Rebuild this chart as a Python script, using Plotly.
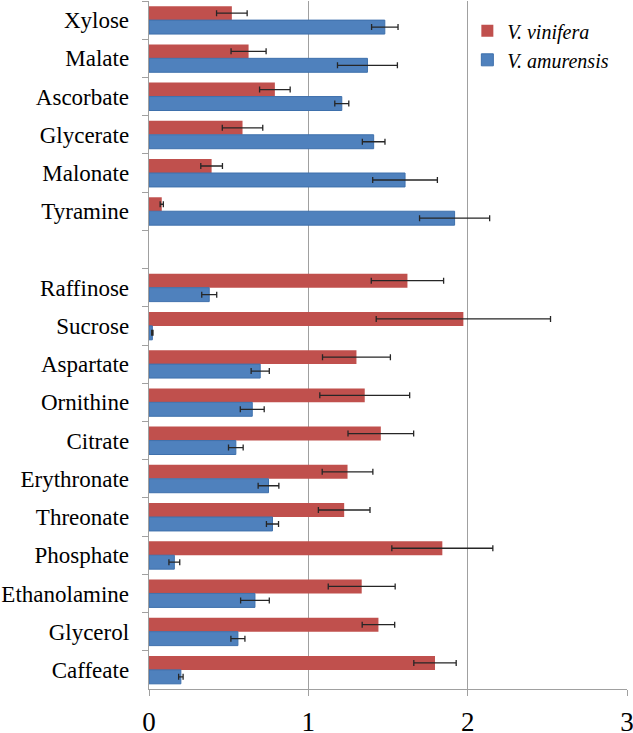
import plotly.graph_objects as go

categories = ["Xylose", "Malate", "Ascorbate", "Glycerate", "Malonate", "Tyramine", " ",
              "Raffinose", "Sucrose", "Aspartate", "Ornithine", "Citrate", "Erythronate",
              "Threonate", "Phosphate", "Ethanolamine", "Glycerol", "Caffeate"]

vinifera = [0.52, 0.625, 0.79, 0.587, 0.393, 0.08, None,
            1.622, 1.973, 1.302, 1.354, 1.455, 1.246,
            1.225, 1.841, 1.335, 1.44, 1.795]
vinifera_err = [0.096, 0.11, 0.096, 0.127, 0.068, 0.01, None,
                0.227, 0.547, 0.213, 0.282, 0.206, 0.159,
                0.162, 0.317, 0.21, 0.102, 0.133]

amurensis = [1.48, 1.371, 1.21, 1.41, 1.607, 1.918, None,
             0.378, 0.021, 0.698, 0.648, 0.545, 0.75,
             0.775, 0.159, 0.665, 0.558, 0.2]
amurensis_err = [0.083, 0.188, 0.044, 0.071, 0.203, 0.22, None,
                 0.047, 0.004, 0.057, 0.075, 0.046, 0.065,
                 0.038, 0.034, 0.09, 0.044, 0.014]

x_ticks = [0, 1, 2, 3]

SERIF = "Liberation Serif, Times New Roman, DejaVu Serif, serif"

fig = go.Figure()
fig.add_trace(go.Bar(
    y=categories, x=vinifera, orientation="h", name="<i>V. vinifera</i>",
    marker=dict(color="#C0504D", line=dict(width=0)),
    error_x=dict(type="data", array=vinifera_err, visible=True,
                 color="#262626", thickness=1.3, width=3),
))
fig.add_trace(go.Bar(
    y=categories, x=amurensis, orientation="h", name="<i>V. amurensis</i>",
    marker=dict(color="#4F81BD", line=dict(width=1, color="#3E70AC")),
    error_x=dict(type="data", array=amurensis_err, visible=True,
                 color="#262626", thickness=1.3, width=3),
))

fig.update_layout(
    width=633, height=733,
    margin=dict(l=149, r=6, t=1, b=44, autoexpand=False),
    paper_bgcolor="white", plot_bgcolor="white",
    barmode="group", bargap=0.27, bargroupgap=0,
    font=dict(family=SERIF, color="black"),
    showlegend=True,
    legend=dict(x=0.666, y=0.985, xanchor="left", yanchor="top",
                font=dict(size=20, family=SERIF, color="black"),
                bgcolor="rgba(0,0,0,0)", borderwidth=0, tracegroupgap=0,
                itemwidth=30),
    xaxis=dict(range=[0, 3], tickvals=x_ticks, ticktext=[str(v) for v in x_ticks],
               showgrid=True, gridcolor="#A0A0A0", gridwidth=1.3,
               showline=True, linecolor="#A0A0A0", linewidth=1.3,
               ticks="outside", ticklen=6, tickcolor="#A0A0A0",
               ticklabelstandoff=2, ticklabeloverflow="allow",
               tickfont=dict(size=27, family=SERIF, color="black"),
               zeroline=False, fixedrange=True),
    yaxis=dict(type="category", categoryorder="array", categoryarray=categories,
               autorange="reversed", tickson="boundaries",
               showline=True, linecolor="#A0A0A0", linewidth=1.3,
               ticks="outside", ticklen=6, tickcolor="#A0A0A0",
               showgrid=False, ticklabelstandoff=14,
               tickfont=dict(size=23, family=SERIF, color="black")),
)

fig.write_html("out.html",
               config={"displayModeBar": False, "staticPlot": True},
               post_script="document.body.style.margin='0';document.body.style.overflow='hidden';")
